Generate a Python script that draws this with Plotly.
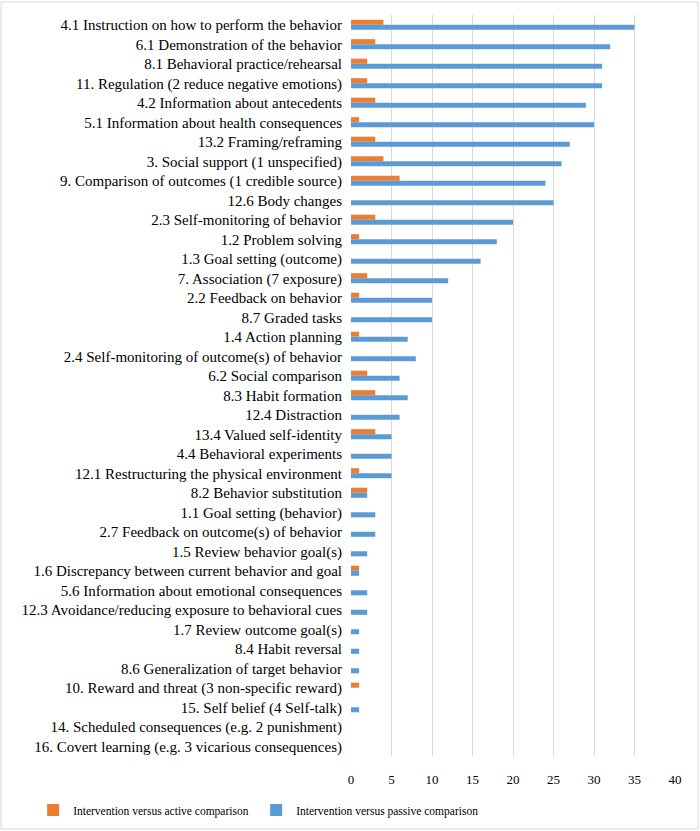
import plotly.graph_objects as go

categories = [
    "4.1 Instruction on how to perform the behavior",
    "6.1 Demonstration of the behavior",
    "8.1 Behavioral practice/rehearsal",
    "11. Regulation (2 reduce negative emotions)",
    "4.2 Information about antecedents",
    "5.1 Information about health consequences",
    "13.2 Framing/reframing",
    "3. Social support (1 unspecified)",
    "9. Comparison of outcomes (1 credible source)",
    "12.6 Body changes",
    "2.3 Self-monitoring of behavior",
    "1.2 Problem solving",
    "1.3 Goal setting (outcome)",
    "7. Association (7 exposure)",
    "2.2 Feedback on behavior",
    "8.7 Graded tasks",
    "1.4 Action planning",
    "2.4 Self-monitoring of outcome(s) of behavior",
    "6.2 Social comparison",
    "8.3 Habit formation",
    "12.4 Distraction",
    "13.4 Valued self-identity",
    "4.4 Behavioral experiments",
    "12.1 Restructuring the physical environment",
    "8.2 Behavior substitution",
    "1.1 Goal setting (behavior)",
    "2.7 Feedback on outcome(s) of behavior",
    "1.5 Review behavior goal(s)",
    "1.6 Discrepancy between current behavior and goal",
    "5.6 Information about emotional consequences",
    "12.3 Avoidance/reducing exposure to behavioral cues",
    "1.7 Review outcome goal(s)",
    "8.4 Habit reversal",
    "8.6 Generalization of target behavior",
    "10. Reward and threat (3 non-specific reward)",
    "15. Self belief (4 Self-talk)",
    "14. Scheduled consequences (e.g. 2 punishment)",
    "16. Covert learning (e.g. 3 vicarious consequences)",
]

active = [4, 3, 2, 2, 3, 1, 3, 4, 6, 0, 3, 1, 0, 2, 1, 0, 1, 0, 2, 3, 0, 3, 0, 1, 2,
          0, 0, 0, 1, 0, 0, 0, 0, 0, 1, 0, 0, 0]
passive = [35, 32, 31, 31, 29, 30, 27, 26, 24, 25, 20, 18, 16, 12, 10, 10, 7, 8, 6, 7, 6, 5, 5, 5, 2,
           3, 3, 2, 1, 2, 2, 1, 1, 1, 0, 1, 0, 0]

series_names = ["Intervention versus active comparison", "Intervention versus passive comparison"]
colors = ["#ED7D31", "#5B9BD5"]

fig = go.Figure()
fig.add_trace(go.Bar(y=categories, x=active, orientation="h", name=series_names[0],
                     marker=dict(color=colors[0], line=dict(width=0))))
fig.add_trace(go.Bar(y=categories, x=passive, orientation="h", name=series_names[1],
                     marker=dict(color=colors[1], line=dict(width=0))))

fig.update_layout(
    width=700, height=831,
    margin=dict(l=351, r=25, t=15, b=75, autoexpand=False),
    paper_bgcolor="white", plot_bgcolor="white",
    barmode="group", bargap=0.48, bargroupgap=0,
    font=dict(family="Liberation Serif", size=15, color="#000000"),
    xaxis=dict(range=[0, 40], dtick=5, showgrid=True, gridcolor="#D9D9D9", gridwidth=1,
               zeroline=False, showline=False, ticks="", ticklabelstandoff=14,
               tickfont=dict(size=13, color="#000000")),
    yaxis=dict(autorange="reversed", showgrid=False, showline=False, ticks="",
               tickfont=dict(size=15, color="#000000"), ticklabelstandoff=8),
    legend=dict(orientation="h", x=-0.981, xanchor="left", y=-0.0729, yanchor="middle",
                font=dict(family="Liberation Serif", size=11.5, color="#000000"),
                traceorder="normal", itemwidth=30,
                entrywidth=178, entrywidthmode="pixels"),
    showlegend=True,
    shapes=[dict(type="rect", xref="paper", yref="paper", x0=-1.0802, x1=1.071, y0=-0.0985, y1=1.0175,
                 line=dict(color="#D9D9D9", width=1), fillcolor="rgba(0,0,0,0)")],
)

fig.write_html("out.html", config={"displayModeBar": False},
               post_script="document.body.style.margin='0px';document.body.style.padding='0px';")
